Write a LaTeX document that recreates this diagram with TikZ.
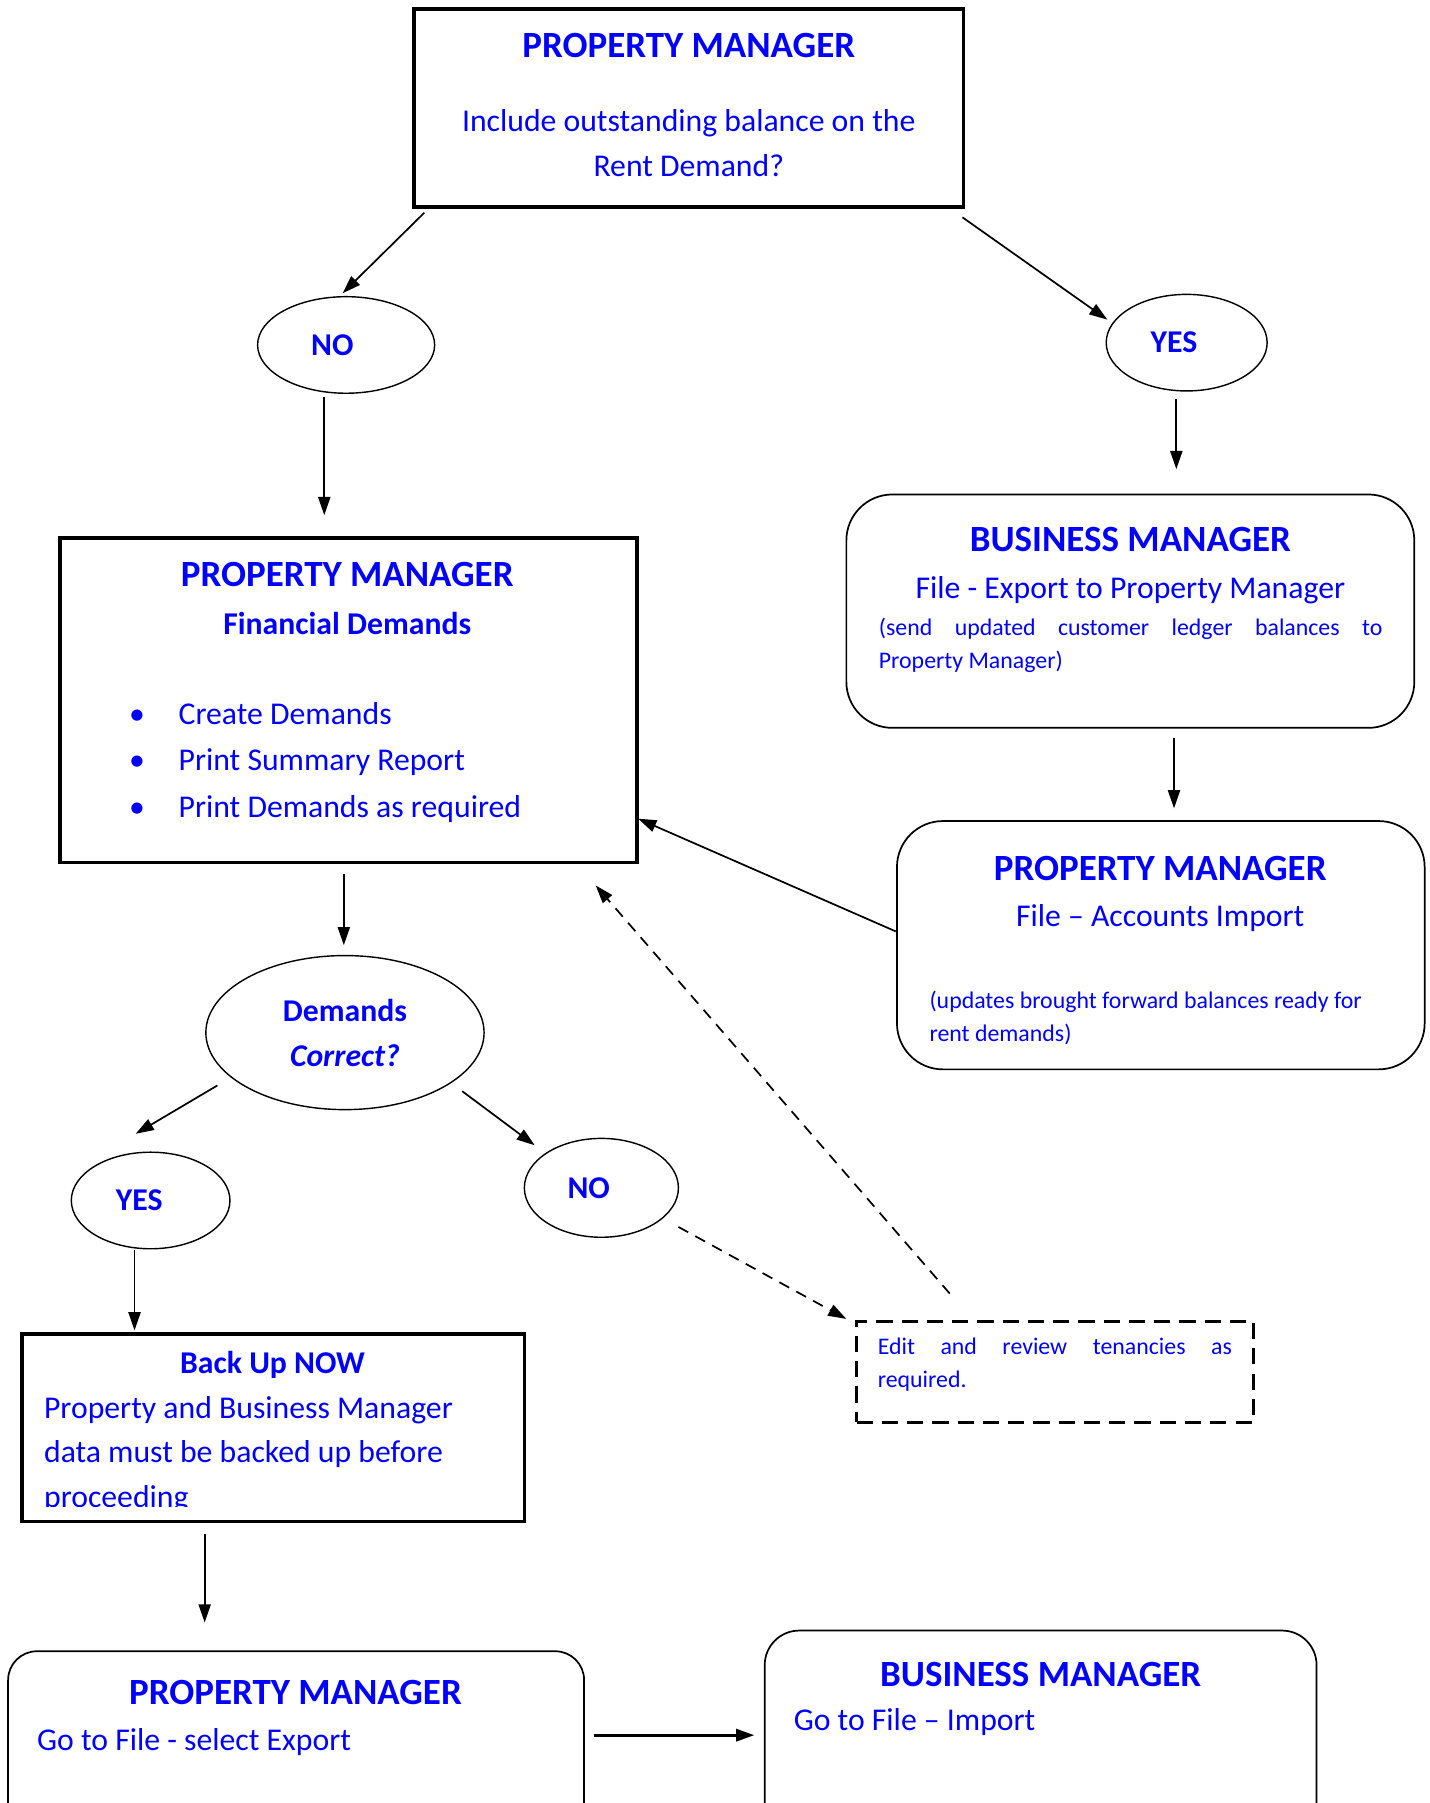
\documentclass[tikz,border=0pt]{standalone}
\usepackage{fontspec}
\setmainfont{Carlito}
\usetikzlibrary{shapes.geometric,arrows.meta}
\newcommand{\boxtitle}{\fontsize{18.3}{22}\selectfont\bfseries}
\newcommand{\boxbody}{\fontsize{15.7}{22.2}\selectfont}
\newcommand{\boxsmall}{\fontsize{11.8}{16.5}\selectfont}
\begin{document}
\begin{tikzpicture}[x=0.02cm, y=-0.02cm,
  txt/.style={text=blue, inner sep=0pt},
  heavybox/.style={draw, rectangle, line width=1.7pt, inner sep=0pt},
  softbox/.style={draw, rectangle, line width=0.85pt, rounded corners=0.8cm, inner sep=0pt},
  choice/.style={draw, ellipse, line width=0.7pt, text=blue, inner sep=0pt, font=\boxbody\bfseries},
  arr/.style={-{Triangle[length=9pt,width=6pt]}, line width=0.85pt},
  dasharr/.style={arr, dash pattern=on 5.5pt off 4pt}]
  \useasboundingbox (0,0) rectangle (1243,1568);
  \clip (0,0) rectangle (1243,1568);

  % boxes
  \node[heavybox, minimum width=9.56cm, minimum height=3.44cm] (pm1) at (599,94) {};
  \node[heavybox, minimum width=10.04cm, minimum height=5.64cm] (fin) at (303,609) {};
  \node[softbox, minimum width=9.88cm, minimum height=4.06cm] (bm1) at (983,531.5) {};
  \node[softbox, minimum width=9.18cm, minimum height=4.32cm] (pm3) at (1009.5,822) {};
  \node[draw, rectangle, line width=1.7pt, dash pattern=on 8pt off 4.5pt, minimum width=6.9cm, minimum height=1.76cm] (edit) at (917.5,1193) {};
  \node[heavybox, minimum width=8.74cm, minimum height=3.26cm] (backup) at (237.5,1241.5) {};
  \node[softbox, rounded corners=0.5cm, minimum width=10.02cm, minimum height=4.28cm] (pm4) at (257.5,1543) {};
  \node[softbox, rounded corners=0.6cm, minimum width=9.6cm, minimum height=4.64cm] (bm2) at (905,1534) {};

  % choices
  \node[choice, minimum width=3.08cm, minimum height=1.68cm] (no1) at (301,300) {NO\hspace*{0.48cm}};
  \node[choice, minimum width=2.8cm, minimum height=1.68cm] (yes1) at (1032,298) {YES\hspace*{0.44cm}};
  \node[choice, align=center, minimum width=4.84cm, minimum height=2.68cm] (dem) at (300,898) {Demands\\\itshape Correct?};
  \node[choice, minimum width=2.76cm, minimum height=1.68cm] (yes2) at (131,1044) {YES\hspace*{0.4cm}};
  \node[choice, minimum width=2.68cm, minimum height=1.72cm] (no2) at (523,1033) {NO\hspace*{0.44cm}};

  % texts
  \node[txt, font=\boxtitle] (pm1title) at (599,40) {PROPERTY MANAGER};
  \node[txt, font=\boxbody, align=center] (pm1text) at (599,124.5) {Include outstanding balance on the\\Rent Demand?};

  \node[txt, font=\boxtitle] (fintitle) at (302,500) {PROPERTY MANAGER};
  \node[txt, font=\boxbody\bfseries] (finsub) at (302,542) {Financial Demands};
  \node[txt, font=\fontsize{15.7}{23}\selectfont, align=left, anchor=west] (finlist) at (112,663)
    {\makebox[0.86cm][l]{\textbullet}Create Demands\\
     \makebox[0.86cm][l]{\textbullet}Print Summary Report\\
     \makebox[0.86cm][l]{\textbullet}Print Demands as required};

  \node[txt, font=\boxtitle] (bm1title) at (983,469) {BUSINESS MANAGER};
  \node[txt, font=\boxbody] (bm1text) at (983,513) {File - Export to Property Manager};
  \node[txt, font=\boxsmall, text width=8.76cm, align=justify, anchor=west] (bm1note) at (764,561.5)
    {(send updated customer ledger balances to\linebreak Property Manager)};

  \node[txt, font=\boxtitle] (pm3title) at (1009,755) {PROPERTY MANAGER};
  \node[txt, font=\boxbody] (pm3text) at (1009,798) {File -- Accounts Import};
  \node[txt, font=\boxsmall, align=left, anchor=west] (pm3note) at (808,885.5)
    {(updates brought forward balances ready for\\rent demands)};

  \node[txt, font=\boxsmall, text width=6.16cm, align=justify, anchor=west] (edittext) at (763,1186.5)
    {Edit and review tenancies as\linebreak required.};

  \node[txt, font=\boxbody\bfseries] (backuptitle) at (237,1187) {Back Up NOW};
  \begin{scope}
    \clip (19,1160) rectangle (456,1310);
    \node[txt, font=\fontsize{15.7}{21.9}\selectfont, align=left, anchor=west] (backuptext) at (38,1265)
      {Property and Business Manager\\data must be backed up before\\proceeding};
  \end{scope}

  \node[txt, font=\boxtitle] (pm4title) at (257,1472) {PROPERTY MANAGER};
  \node[txt, font=\boxbody, anchor=west] (pm4text) at (32,1515) {Go to File - select Export};

  \node[txt, font=\boxtitle] (bm2title) at (905,1456) {BUSINESS MANAGER};
  \node[txt, font=\boxbody, anchor=west] (bm2text) at (690,1498) {Go to File -- Import};

  % connectors
  \draw[arr] ([shift={(-230,91)}]pm1.center) -- ([shift={(-3,-45)}]no1.center);
  \draw[arr] ([shift={(238,95)}]pm1.center) -- ([shift={(-69,-20)}]yes1.center);
  \draw[arr] ([shift={(-19,45)}]no1.center) -- ([shift={(-21,-161)}]fin.center);
  \draw[arr] ([shift={(-9,49)}]yes1.center) -- ([shift={(40,-123.5)}]bm1.center);
  \draw[arr] ([shift={(38,110.5)}]bm1.center) -- ([shift={(11.5,-119)}]pm3.center);
  \draw[arr] ([shift={(-230.5,-12)}]pm3.center) -- ([shift={(252,103)}]fin.center);
  \draw[arr] ([shift={(-4,151)}]fin.center) -- ([shift={(-1,-76)}]dem.center);
  \draw[arr] ([shift={(-111,46)}]dem.center) -- ([shift={(-13,-58)}]yes2.center);
  \draw[arr] ([shift={(102,51)}]dem.center) -- ([shift={(-58,-37)}]no2.center);
  \draw[dasharr] ([shift={(67,34)}]no2.center) -- ([shift={(-181.5,-46)}]edit.center);
  \draw[dasharr] ([shift={(-91.5,-68)}]edit.center) -- ([shift={(215,161)}]fin.center);
  \draw[arr] ([shift={(-14,43)}]yes2.center) -- ([shift={(-120.5,-84.5)}]backup.center);
  \draw[arr] ([shift={(-59.5,92.5)}]backup.center) -- ([shift={(-79.5,-132)}]pm4.center);
  \draw[arr, line width=1.4pt] ([shift={(259.5,-34)}]pm4.center) -- ([shift={(-249,-25)}]bm2.center);

\end{tikzpicture}
\end{document}
